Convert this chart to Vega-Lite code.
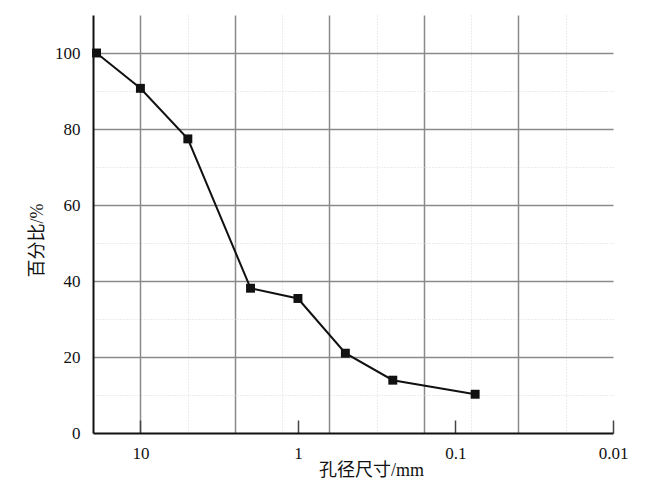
{
  "$schema": "https://vega.github.io/schema/vega-lite/v6.json",
  "width": 520,
  "height": 418,
  "autosize": {"type": "none"},
  "padding": {"left": 93, "top": 15, "right": 37, "bottom": 52},
  "background": "white",
  "config": {
    "font": "Liberation Serif, Noto Sans CJK SC",
    "view": {"stroke": null},
    "axis": {"labelFont": "Liberation Serif, Noto Sans CJK SC", "titleFont": "Liberation Serif, Noto Sans CJK SC", "titleFontWeight": "normal", "labelFlush": false, "labelOverlap": false}
  },
  "data": {
    "values": [
      {"size": 19, "pct": 100},
      {"size": 10, "pct": 90.7},
      {"size": 5, "pct": 77.4},
      {"size": 2, "pct": 38.1},
      {"size": 1, "pct": 35.4},
      {"size": 0.5, "pct": 21.0},
      {"size": 0.25, "pct": 13.9},
      {"size": 0.075, "pct": 10.2}
    ]
  },
  "resolve": {"axis": {"x": "independent", "y": "independent"}},
  "layer": [
    {
      "mark": {"type": "point", "opacity": 0},
      "encoding": {
        "x": {"field": "size", "type": "quantitative",
          "scale": {"type": "log", "domain": [0.01, 20], "reverse": true, "nice": false},
          "axis": {"orient": "bottom", "values": [5.02, 1.2606, 0.3165, 0.07947, 0.01996], "labels": false, "ticks": false, "domain": false, "grid": true, "gridColor": "#d8d8d8", "gridWidth": 1, "gridDash": [1, 2], "title": null}},
        "y": {"field": "pct", "type": "quantitative",
          "scale": {"domain": [0, 110], "nice": false, "zero": false},
          "axis": {"orient": "left", "values": [10, 30, 50, 70, 90], "labels": false, "ticks": false, "domain": false, "grid": true, "gridColor": "#d8d8d8", "gridWidth": 1, "gridDash": [1, 2], "title": null}}
      }
    },
    {
      "mark": {"type": "line", "color": "#111", "strokeWidth": 2},
      "encoding": {
        "x": {"field": "size", "type": "quantitative",
          "axis": {"orient": "bottom", "values": [10.02, 2.516, 0.6317, 0.1586, 0.03983], "labels": false, "ticks": false, "domain": false, "grid": true, "gridColor": "#8a8a8a", "gridWidth": 1.5, "title": null}},
        "y": {"field": "pct", "type": "quantitative",
          "axis": {"orient": "left", "values": [20, 40, 60, 80, 100], "labels": false, "ticks": false, "domain": false, "grid": true, "gridColor": "#8a8a8a", "gridWidth": 1.5, "title": null}}
      }
    },
    {
      "mark": {"type": "point", "shape": "square", "filled": true, "size": 80, "color": "#111", "opacity": 1},
      "encoding": {
        "x": {"field": "size", "type": "quantitative",
          "axis": {"orient": "bottom", "values": [10, 1, 0.1, 0.01], "format": "~g", "grid": false, "ticks": true, "tickSize": -13, "tickColor": "#444", "tickWidth": 1.5, "labelPadding": 25, "domainColor": "#111", "domainWidth": 2, "labelFontSize": 17, "labelColor": "#111", "title": "孔径尺寸/mm", "titleFontSize": 18, "titleColor": "#111", "titleX": 278, "titleY": 37, "titleAlign": "center", "titleBaseline": "middle", "zindex": 1}},
        "y": {"field": "pct", "type": "quantitative",
          "axis": {"orient": "left", "values": [0, 20, 40, 60, 80, 100], "grid": false, "ticks": false, "domainColor": "#111", "domainWidth": 2, "labelFontSize": 17, "labelColor": "#111", "labelPadding": 13, "title": "百分比/%", "titleFontSize": 18, "titleColor": "#111", "titleAngle": -90, "titleX": -56, "titleY": 225, "titleAlign": "center", "titleBaseline": "middle", "zindex": 1}}
      }
    }
  ]
}
